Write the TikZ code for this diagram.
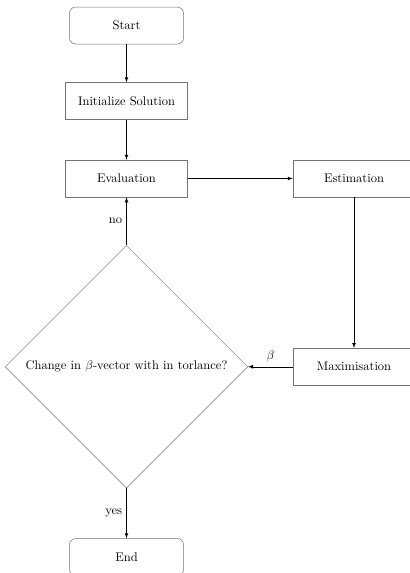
\documentclass[tikz,border=0pt]{standalone}
\usepackage{amsmath}
\usepackage{tikz}
\usetikzlibrary{positioning,shapes.geometric}

\begin{document}
\begin{tikzpicture}[auto, node distance=30pt,
  block/.style={rectangle, draw=black!55, minimum width=97.6pt, minimum height=29.6pt},
  term/.style={block, rounded corners=5pt, minimum width=91.2pt},
  decision/.style={diamond, draw=black!55, inner sep=0pt, minimum width=194pt, minimum height=194pt},
  link/.style={draw, ->, >=latex}]
  \useasboundingbox (0,0) rectangle (327.2pt,-458.4pt);
  \node[term] (start) at (101.2pt,-20.4pt) {Start};
  \node[block, below=30.4pt of start] (init) {Initialize Solution};
  \node[block, below=32pt of init] (eval) {Evaluation};
  \node[decision, below=38.4pt of eval] (dec) {Change in $\beta$-vector with in torlance?};
  \node[term, below=40pt of dec] (stop) {End};
  \node[block, right=84pt of eval] (est) {Estimation};
  \node[block] (max) at (est |- dec) {Maximisation};
 \path[every edge/.style=link]
  (start) edge (init)
  (init) edge (eval)
  (eval) edge (est)
  (est) edge (max)
  (max) edge node[above] {$\beta$} (dec)
  (dec) edge node[left] {no} (eval)
  (dec) edge node[left] {yes} (stop);
\end{tikzpicture}
\end{document}
